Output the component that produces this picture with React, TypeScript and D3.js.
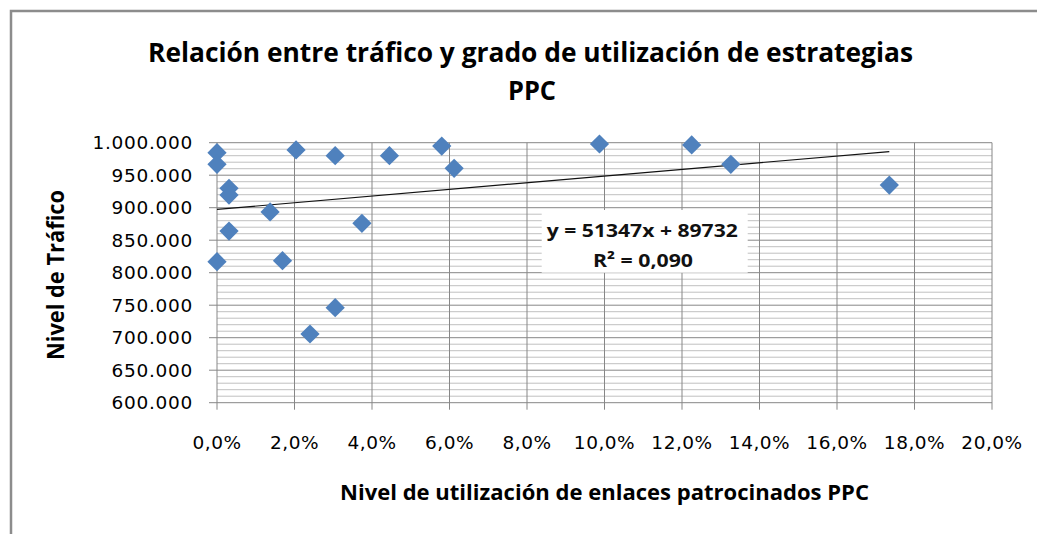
import React, { useEffect, useRef } from "react";
import * as d3 from "d3";

// share of PPC sponsored links (fraction) and traffic level
const usagePPC = [
  0.0, 0.0, 0.0031, 0.0031, 0.0031, 0.0, 0.0137, 0.0169, 0.0204, 0.024,
  0.0305, 0.0305, 0.0445, 0.0374, 0.058, 0.0612, 0.0987, 0.1225, 0.1326, 0.1735,
];
const traffic = [
  984600, 966800, 929800, 919500, 864000, 817000, 893400, 818500, 988800, 705700,
  746200, 980000, 980000, 876000, 994900, 960600, 998000, 996500, 966800, 934900,
];

const xTicks = [0, 0.02, 0.04, 0.06, 0.08, 0.1, 0.12, 0.14, 0.16, 0.18, 0.2];
const yTicks = [600000, 650000, 700000, 750000, 800000, 850000, 900000, 950000, 1000000];

// linear trend (Excel label shows truncated digits)
const trendSlope = 513470;
const trendIntercept = 897320;
const trendLabel = ["y = 51347x + 89732", "R² = 0,090"];

const titleLines = ["Relación entre tráfico y grado de utilización de estrategias", "PPC"];
const xTitle = "Nivel de utilización de enlaces patrocinados PPC";
const yTitle = "Nivel de Tráfico";

const W = 1037;
const H = 534;
const grid = "#878787";
const minorGrid = "#c0c0c0";
const blue = "#4F81BD";

const fmtY = (v) => d3.format(",")(v).replace(/,/g, ".");
const fmtX = (v) => d3.format(".1f")(v * 100).replace(".", ",") + "%";

const App = () => {
  const ref = useRef(null);

  useEffect(() => {
    const svg = d3.select(ref.current);
    svg.selectAll("*").remove();

    const x = d3.scaleLinear().domain([0, 0.2]).range([217, 992]);
    const y = d3.scaleLinear().domain([600000, 1000000]).range([402.7, 142.7]);

    // outer frame (top and left visible)
    svg
      .append("path")
      .attr("d", `M11,${H} V11 H${W}`)
      .attr("fill", "none")
      .attr("stroke", "#8c8c8c")
      .attr("stroke-width", 2.5);

    // minor horizontal grid
    const minor = d3.range(600000, 1000001, 10000).filter((v) => v % 50000 !== 0);
    svg
      .append("g")
      .selectAll("line")
      .data(minor)
      .enter()
      .append("line")
      .attr("x1", x(0))
      .attr("x2", x(0.2))
      .attr("y1", (d) => y(d))
      .attr("y2", (d) => y(d))
      .attr("stroke", minorGrid)
      .attr("stroke-width", 1);

    // major horizontal grid + ticks
    svg
      .append("g")
      .selectAll("line")
      .data(yTicks)
      .enter()
      .append("line")
      .attr("x1", x(0) - 8)
      .attr("x2", x(0.2))
      .attr("y1", (d) => y(d))
      .attr("y2", (d) => y(d))
      .attr("stroke", grid)
      .attr("stroke-width", 1);

    // vertical grid + ticks
    svg
      .append("g")
      .selectAll("line")
      .data(xTicks)
      .enter()
      .append("line")
      .attr("x1", (d) => x(d))
      .attr("x2", (d) => x(d))
      .attr("y1", y(1000000))
      .attr("y2", y(600000) + 7)
      .attr("stroke", grid)
      .attr("stroke-width", 1);

    // y tick labels
    svg
      .append("g")
      .selectAll("text")
      .data(yTicks)
      .enter()
      .append("text")
      .attr("x", 193)
      .attr("y", (d) => y(d))
      .attr("dy", "0.36em")
      .attr("text-anchor", "end")
      .attr("font-family", "DejaVu Sans")
      .attr("font-size", 18.5)
      .attr("letter-spacing", 0.7)
      .attr("fill", "#000")
      .text(fmtY);

    // x tick labels
    svg
      .append("g")
      .selectAll("text")
      .data(xTicks)
      .enter()
      .append("text")
      .attr("x", (d) => x(d))
      .attr("y", 449)
      .attr("text-anchor", "middle")
      .attr("font-family", "DejaVu Sans")
      .attr("font-size", 18.5)
      .attr("letter-spacing", 0.5)
      .attr("fill", "#000")
      .text(fmtX);

    // trend label box
    svg
      .append("rect")
      .attr("x", 541.7)
      .attr("y", 210)
      .attr("width", 206)
      .attr("height", 62.7)
      .attr("fill", "#fff");

    svg
      .append("text")
      .attr("x", 642.3)
      .attr("y", 237)
      .attr("text-anchor", "middle")
      .attr("font-family", "Open Sans")
      .attr("font-weight", "bold")
      .attr("font-size", 18.5)
      .attr("textLength", 191)
      .attr("lengthAdjust", "spacingAndGlyphs")
      .attr("fill", "#111")
      .text(trendLabel[0]);

    svg
      .append("text")
      .attr("x", 643)
      .attr("y", 266.7)
      .attr("text-anchor", "middle")
      .attr("font-family", "Open Sans")
      .attr("font-weight", "bold")
      .attr("font-size", 18.5)
      .attr("textLength", 100)
      .attr("lengthAdjust", "spacingAndGlyphs")
      .attr("fill", "#111")
      .text(trendLabel[1]);

    // trend line
    const maxX = d3.max(usagePPC);
    svg
      .append("line")
      .attr("x1", x(0))
      .attr("y1", y(trendIntercept))
      .attr("x2", x(maxX))
      .attr("y2", y(trendIntercept + trendSlope * maxX))
      .attr("stroke", "#111")
      .attr("stroke-width", 1.2);

    // points
    const pts = usagePPC.map((v, i) => [v, traffic[i]]);
    const diamond = d3.symbol().type(d3.symbolSquare).size(185);
    svg
      .append("g")
      .selectAll("path")
      .data(pts)
      .enter()
      .append("path")
      .attr("d", diamond)
      .attr("transform", (d) => `translate(${x(d[0])},${y(d[1])}) rotate(45)`)
      .attr("fill", blue);

    // titles
    svg
      .append("text")
      .attr("x", 530.5)
      .attr("y", 62)
      .attr("text-anchor", "middle")
      .attr("font-family", "Open Sans")
      .attr("font-weight", "bold")
      .attr("font-size", 26.5)
      .attr("textLength", 765)
      .attr("lengthAdjust", "spacingAndGlyphs")
      .attr("fill", "#000")
      .text(titleLines[0]);

    svg
      .append("text")
      .attr("x", 532)
      .attr("y", 100)
      .attr("text-anchor", "middle")
      .attr("font-family", "Open Sans")
      .attr("font-weight", "bold")
      .attr("font-size", 26.5)
      .attr("textLength", 48)
      .attr("lengthAdjust", "spacingAndGlyphs")
      .attr("fill", "#000")
      .text(titleLines[1]);

    svg
      .append("text")
      .attr("x", 604.5)
      .attr("y", 500)
      .attr("text-anchor", "middle")
      .attr("font-family", "Open Sans")
      .attr("font-weight", "bold")
      .attr("font-size", 21.5)
      .attr("textLength", 529)
      .attr("lengthAdjust", "spacingAndGlyphs")
      .attr("fill", "#000")
      .text(xTitle);

    svg
      .append("text")
      .attr("transform", "translate(64,275) rotate(-90)")
      .attr("text-anchor", "middle")
      .attr("font-family", "Open Sans")
      .attr("font-weight", "bold")
      .attr("font-size", 23)
      .attr("textLength", 170)
      .attr("lengthAdjust", "spacingAndGlyphs")
      .attr("fill", "#000")
      .text(yTitle);
  }, []);

  return (
    <svg
      ref={ref}
      width={W}
      height={H}
      style={{ position: "absolute", left: 0, top: 0, background: "#fff" }}
    ></svg>
  );
};

export default App;
